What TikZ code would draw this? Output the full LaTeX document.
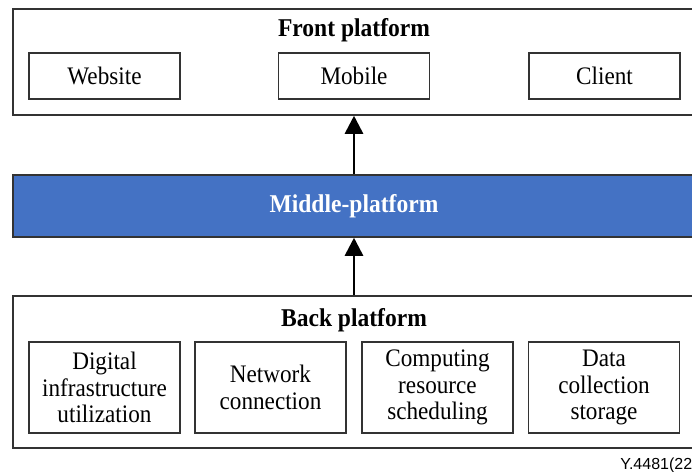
\documentclass[tikz,border=0pt]{standalone}
\usepackage{fontspec}
\setmainfont{Liberation Serif}[FakeStretch=0.92]
\newfontfamily\figfont{Liberation Sans}
\usetikzlibrary{arrows.meta}
\definecolor{midblue}{HTML}{4472C4}
\tikzset{
  platform/.style={draw=black!80, line width=0.75pt, minimum width=341pt, inner sep=0pt},
  part/.style={draw=black!80, line width=0.75pt, minimum width=75.5pt, inner sep=0pt,
    align=center, font=\fontsize{12.6}{13.4}\selectfont},
  title/.style={font=\fontsize{12.8}{14}\selectfont\bfseries},
  up/.style={-{Triangle[length=9pt,width=9pt]}, line width=1.3pt}
}

\begin{document}
\begin{tikzpicture}[x=0.5pt,y=-0.5pt]
\useasboundingbox (0,0) rectangle (692,472);
% front platform
\node[platform, minimum height=53pt] (front) at (354,62) {};
\node[title] (fronttitle) at (354,30) {Front platform};
\foreach \name/\x/\txt in {web/104.5/Website, mob/354/Mobile, cli/604.5/Client}
  \node[part, minimum height=23pt] (\name) at (\x,76) {\txt};
% middle platform
\node[platform, fill=midblue, minimum height=31pt, text=white, title] (mid) at (354,206) {Middle-platform};
% back platform
\node[platform, minimum height=76pt] (back) at (354,372) {};
\node[title] (backtitle) at (354,320) {Back platform};
\foreach \name/\x/\txt in {dig/104.5/{Digital\\infrastructure\\utilization},
    net/270.5/{Network\\connection},
    comp/437.5/{Computing\\resource\\scheduling},
    data/604/{Data\\collection\\storage}}
  \node[part, minimum height=45.5pt] (\name) at (\x,387.5) {\txt};
% arrows
\draw[up] (mid.north) -- (front.south);
\draw[up] (back.north) -- (mid.south);
\node[font=\figfont\fontsize{8}{9}\selectfont, anchor=base west, inner sep=0pt] (figno) at (620,469) {Y.4481(22};
\end{tikzpicture}
\end{document}
